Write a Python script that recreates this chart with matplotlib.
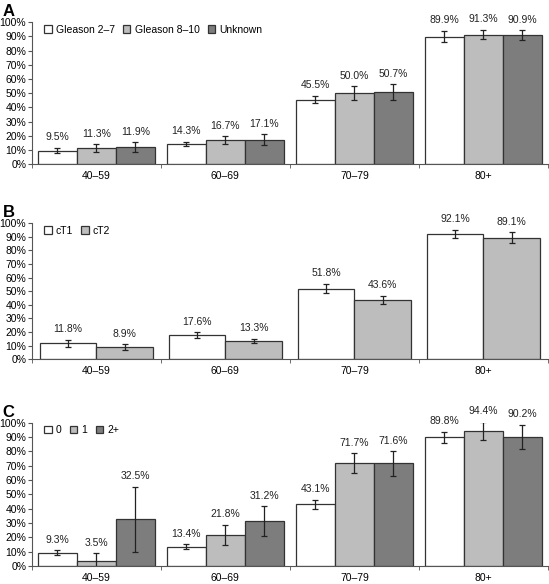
import numpy as np
import matplotlib.pyplot as plt

plt.rcParams['font.family'] = ['Liberation Sans', 'DejaVu Sans']

# =========================
# DATA
# =========================
age_groups = ["40\u201359", "60\u201369", "70\u201379", "80+"]

a_names = ["Gleason 2\u20137", "Gleason 8\u201310", "Unknown"]
a_vals = [[9.5, 14.3, 45.5, 89.9],
          [11.3, 16.7, 50.0, 91.3],
          [11.9, 17.1, 50.7, 90.9]]
a_errs = [[2.0, 1.4, 2.7, 3.9],
          [2.6, 2.8, 4.8, 3.4],
          [3.6, 3.8, 5.6, 3.5]]

b_names = ["cT1", "cT2"]
b_vals = [[11.8, 17.6, 51.8, 92.1],
          [8.9, 13.3, 43.6, 89.1]]
b_errs = [[2.5, 2.0, 3.4, 2.9],
          [2.0, 1.6, 2.9, 4.0]]

c_names = ["0", "1", "2+"]
c_vals = [[9.3, 13.4, 43.1, 89.8],
          [3.5, 21.8, 71.7, 94.4],
          [32.5, 31.2, 71.6, 90.2]]
c_errs = [[1.6, 1.7, 3.0, 4.0],
          [5.4, 7.0, 7.0, 6.4],
          [22.7, 10.5, 8.5, 8.4]]

colors3 = ["white", "#bdbdbd", "#7d7d7d"]
colors2 = ["white", "#bdbdbd"]

# =========================
# FIGURE
# =========================
fig = plt.figure(figsize=(5.49, 5.84), dpi=100)

panels = [
    ("A", [0.058, 0.719, 0.940, 0.243], a_names, a_vals, a_errs, colors3, 0.302),
    ("B", [0.058, 0.385, 0.940, 0.233], b_names, b_vals, b_errs, colors2, 0.44),
    ("C", [0.058, 0.031, 0.940, 0.245], c_names, c_vals, c_errs, colors3, 0.302),
]

x = np.arange(len(age_groups))

for letter, rect, names, vals, errs, cols, w in panels:
    ax = fig.add_axes(rect)
    n = len(names)
    for i in range(n):
        pos = x + (i - (n - 1) / 2) * w
        ax.bar(pos, vals[i], width=w, color=cols[i], edgecolor="#333333",
               linewidth=0.9, label=names[i], zorder=2)
        ax.errorbar(pos, vals[i], yerr=errs[i], fmt="none", ecolor="#222222",
                    elinewidth=0.9, capsize=2, capthick=0.9, zorder=3)
        for p, v, e in zip(pos, vals[i], errs[i]):
            ax.annotate(f"{v:.1f}%", (p, v + e), xytext=(0, 4),
                        textcoords="offset points", ha="center", va="bottom",
                        fontsize=7.5, color="#222222", annotation_clip=False)

    ax.set_xlim(-0.5, 3.5)
    ax.set_ylim(0, 100)
    ax.set_yticks(np.arange(0, 101, 10))
    ax.set_yticklabels([f"{t}%" for t in range(0, 101, 10)], fontsize=7.5)
    ax.set_xticks(x)
    ax.set_xticklabels(age_groups, fontsize=7.5)
    ax.set_xticks(np.arange(-0.5, 4, 1), minor=True)
    ax.tick_params(axis="x", which="major", length=0, pad=5)
    ax.tick_params(axis="x", which="minor", length=3, color="#555555")
    ax.tick_params(axis="y", length=3, color="#555555", pad=1)
    for s in ["top", "right"]:
        ax.spines[s].set_visible(False)
    for s in ["left", "bottom"]:
        ax.spines[s].set_color("#555555")
        ax.spines[s].set_linewidth(0.8)

    ax.legend(loc="upper left", ncol=n, frameon=False, fontsize=7.5,
              handlelength=0.7, handleheight=0.7, handletextpad=0.4,
              columnspacing=0.8, borderaxespad=0.3,
              bbox_to_anchor=(0.01, 1.035))

    fig.text(0.005, rect[1] + rect[3] + 0.005, letter, fontsize=12,
             fontweight="bold", va="bottom", ha="left")

fig.savefig("out.png", dpi=100)
